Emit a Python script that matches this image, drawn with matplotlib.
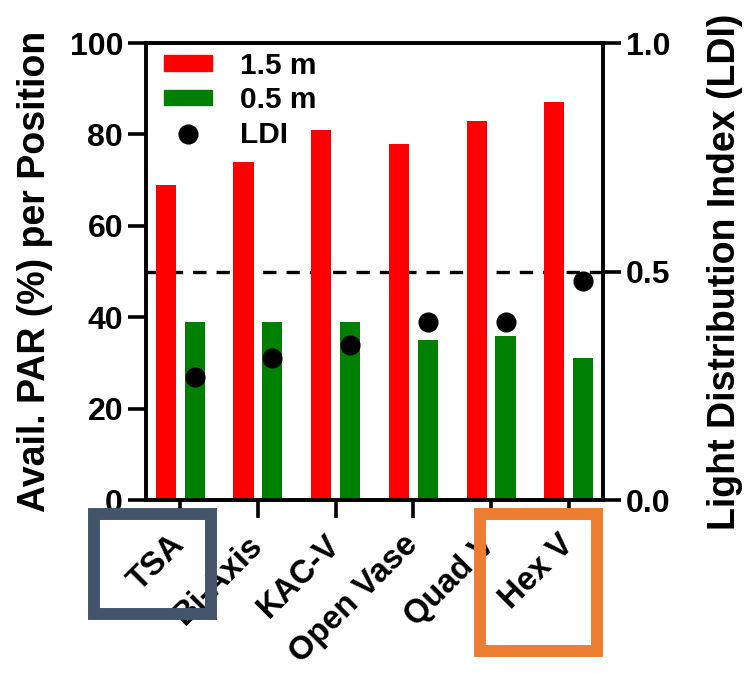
import numpy as np
import matplotlib
matplotlib.use("Agg")
import matplotlib.pyplot as plt
from matplotlib.patches import Rectangle, Patch
from matplotlib.lines import Line2D

plt.rcParams['font.family'] = ['Liberation Sans', 'DejaVu Sans']
plt.rcParams['font.weight'] = 'bold'

systems = ['TSA', 'Bi-Axis', 'KAC-V', 'Open Vase', 'Quad V', 'Hex V']
par_15m = [69, 74, 81, 78, 83, 87]
par_05m = [39, 39, 39, 35, 36, 31]
ldi = [0.27, 0.31, 0.34, 0.39, 0.39, 0.48]

x = np.arange(len(systems))
w = 0.26
off = 0.186

fig = plt.figure(figsize=(7.51, 6.73), dpi=100)
ax = fig.add_axes([0.1944, 0.257, 0.6086, 0.679])
ax2 = ax.twinx()

ax.bar(x - off, par_15m, width=w, color='#ff0000', label='1.5 m', zorder=2)
ax.bar(x + off, par_05m, width=w, color='#008000', label='0.5 m', zorder=2)
ax.axhline(50, color='black', lw=2.4, ls=(0, (4, 3)), zorder=1)
ax2.plot(x + off, ldi, 'o', color='black', ms=13.5, zorder=3)

ax.set_xlim(-0.44, len(systems) - 1 + 0.44)
ax.set_ylim(0, 100)
ax2.set_ylim(0, 1.0)
ax.set_yticks([0, 20, 40, 60, 80, 100])
ax2.set_yticks([0.0, 0.5, 1.0])
ax2.set_yticklabels(['0.0', '0.5', '1.0'])
ax.set_xticks(x)
ax.set_xticklabels(systems, rotation=45, ha='right', va='center',
                   rotation_mode='anchor', fontweight='bold')

for a in (ax, ax2):
    for s in a.spines.values():
        s.set_linewidth(2.6)
    a.tick_params(width=2.6, length=13, labelsize=23)
for lab in ax.get_yticklabels() + ax2.get_yticklabels():
    lab.set_fontweight('bold')
ax.tick_params(axis='x', labelsize=23.5, pad=16)

ax.set_ylabel('Avail. PAR (%) per Position', fontsize=27, fontweight='bold', labelpad=12)
ax2.set_ylabel('Light Distribution Index (LDI)', fontsize=27, fontweight='bold', labelpad=26.5)

handles = [Patch(color='#ff0000', label='1.5 m'),
           Patch(color='#008000', label='0.5 m'),
           Line2D([], [], marker='o', ls='none', color='black', ms=13.5, label='LDI')]
ax.legend(handles=handles, loc='upper left', bbox_to_anchor=(0, 1.02), frameon=False,
          handlelength=1.6, handleheight=0.42, handletextpad=0.95, labelspacing=0.22,
          borderaxespad=0.2, prop={'weight': 'bold', 'size': 21.5})

fig.patches.append(Rectangle((0.1252, 0.0877), 0.1558, 0.1486, fill=False,
                             ec='#44546a', lw=8.6, transform=fig.transFigure))
fig.patches.append(Rectangle((0.639, 0.0327), 0.1558, 0.2036, fill=False,
                             ec='#ed7d31', lw=8.6, transform=fig.transFigure))

fig.savefig('out.png', dpi=100)
